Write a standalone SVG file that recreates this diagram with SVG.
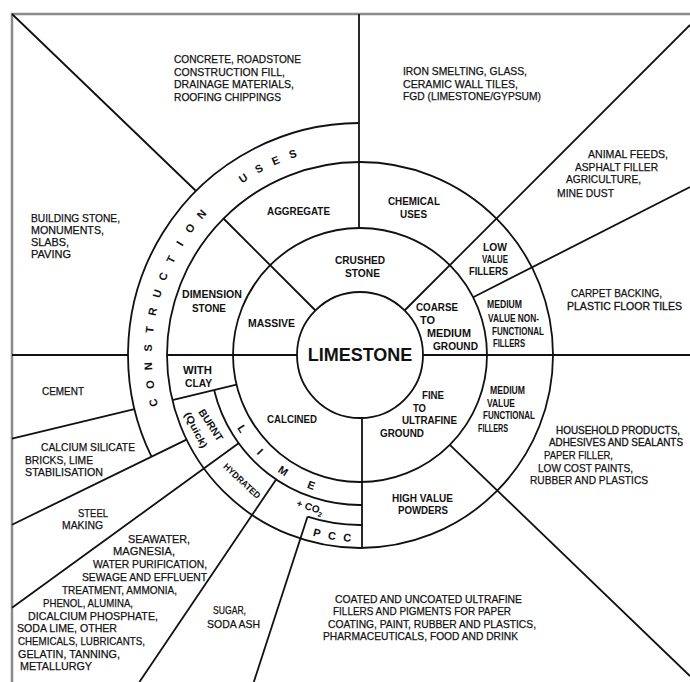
<svg xmlns="http://www.w3.org/2000/svg" width="690" height="682" viewBox="0 0 690 682">
<style>
.ln{fill:none;stroke:#111;stroke-width:1.8}
.fr{fill:none;stroke:#8c8c8c;stroke-width:2.5}
text{font-family:"Liberation Sans",Arial,Helvetica,sans-serif;fill:#111}
.o{font-size:11.5px;stroke:#111;stroke-width:0.25}
.e{font-size:10.2px;stroke-width:0.3}
.b{font-size:11.5px;font-weight:bold}
.s{font-size:10.5px;font-weight:bold}
.c{font-size:11px;font-weight:bold;text-anchor:middle}
.r{font-weight:bold;text-anchor:middle}
</style>
<rect x="0" y="0" width="690" height="682" fill="#fff"/>
<path class="fr" d="M12,682 L12,14 L690,14"/>
<g id="rings">
<circle class="ln" cx="360" cy="355" r="63"/>
<circle class="ln" cx="360" cy="355" r="127"/>
<circle class="ln" cx="360" cy="355" r="193"/>
<path class="ln" d="M359,123 A232,232 0 0,0 151.5,456.7"/>
<path class="ln" d="M214.1,390 A150,150 0 0,0 362,505"/>
<path class="ln" d="M307.5,516.7 A170,170 0 0,0 362,525"/>
</g>
<g id="connectors">
<path class="ln" d="M404.5,310.5 L690,25"/>
<path class="ln" d="M473.2,297.3 L690,187"/>
<path class="ln" d="M423,355 L690,355"/>
<path class="ln" d="M449.8,444.8 L690,676"/>
<path class="ln" d="M362,418 L362,548"/>
<path class="ln" d="M307.5,516.7 L253.8,682"/>
<path class="ln" d="M276.1,479.4 L139.4,682"/>
<path class="ln" d="M238.6,443.2 L12,607.8"/>
<path class="ln" d="M186.5,439.6 L12,524.7"/>
<path class="ln" d="M236.5,384.6 L172.3,400.1 M134.4,409.2 L12,438.6"/>
<path class="ln" d="M297,355 L167,355 M128,355 L12,355"/>
<path class="ln" d="M315.5,310.5 L223.5,218.5 M196,191 L12,14"/>
<path class="ln" d="M359,14 L359,228"/>
</g>
<g id="n-limestone"><text x="360" y="361" font-size="18" font-weight="bold" text-anchor="middle">LIMESTONE</text></g>
<g id="n-crushed-stone"><text class="b" x="335" y="264" textLength="50" lengthAdjust="spacingAndGlyphs">CRUSHED</text><text class="b" x="345" y="277" textLength="35" lengthAdjust="spacingAndGlyphs">STONE</text></g>
<g id="n-massive"><text class="b" x="248" y="326.5" textLength="47" lengthAdjust="spacingAndGlyphs">MASSIVE</text></g>
<g id="n-calcined"><text class="b" x="267" y="422.5" textLength="50" lengthAdjust="spacingAndGlyphs">CALCINED</text></g>
<g id="n-coarse-ground"><text class="b" x="416" y="311" textLength="42" lengthAdjust="spacingAndGlyphs">COARSE</text><text class="b" x="420" y="324" textLength="15" lengthAdjust="spacingAndGlyphs">TO</text><text class="b" x="427" y="336.5" textLength="44" lengthAdjust="spacingAndGlyphs">MEDIUM</text><text class="b" x="433" y="350" textLength="45" lengthAdjust="spacingAndGlyphs">GROUND</text></g>
<g id="n-fine-ground"><text class="b" x="422" y="399" textLength="22" lengthAdjust="spacingAndGlyphs">FINE</text><text class="b" x="413" y="411.5" textLength="13" lengthAdjust="spacingAndGlyphs">TO</text><text class="b" x="402" y="424" textLength="55" lengthAdjust="spacingAndGlyphs">ULTRAFINE</text><text class="b" x="380" y="436.5" textLength="44" lengthAdjust="spacingAndGlyphs">GROUND</text></g>
<g id="n-aggregate"><text class="b" x="267" y="215" textLength="63" lengthAdjust="spacingAndGlyphs">AGGREGATE</text></g>
<g id="n-chemical-uses"><text class="b" x="388" y="205" textLength="52" lengthAdjust="spacingAndGlyphs">CHEMICAL</text><text class="b" x="400" y="217.5" textLength="27" lengthAdjust="spacingAndGlyphs">USES</text></g>
<g id="n-low-value-fillers"><text class="b" x="483" y="251" textLength="24" lengthAdjust="spacingAndGlyphs">LOW</text><text class="b" x="482" y="263" textLength="26" lengthAdjust="spacingAndGlyphs">VALUE</text><text class="b" x="469" y="275" textLength="39" lengthAdjust="spacingAndGlyphs">FILLERS</text></g>
<g id="n-medium-nonfunctional"><text class="s" x="487" y="307.5" textLength="35" lengthAdjust="spacingAndGlyphs">MEDIUM</text><text class="s" x="488" y="321.5" textLength="51" lengthAdjust="spacingAndGlyphs">VALUE NON-</text><text class="s" x="492" y="334.5" textLength="52" lengthAdjust="spacingAndGlyphs">FUNCTIONAL</text><text class="s" x="493" y="347" textLength="32" lengthAdjust="spacingAndGlyphs">FILLERS</text></g>
<g id="n-medium-functional"><text class="s" x="490" y="394" textLength="35" lengthAdjust="spacingAndGlyphs">MEDIUM</text><text class="s" x="487" y="406.5" textLength="28" lengthAdjust="spacingAndGlyphs">VALUE</text><text class="s" x="483" y="419" textLength="52" lengthAdjust="spacingAndGlyphs">FUNCTIONAL</text><text class="s" x="478" y="431.5" textLength="30" lengthAdjust="spacingAndGlyphs">FILLERS</text></g>
<g id="n-high-value-powders"><text class="b" x="392" y="501.5" textLength="61" lengthAdjust="spacingAndGlyphs">HIGH VALUE</text><text class="b" x="398" y="514" textLength="50" lengthAdjust="spacingAndGlyphs">POWDERS</text></g>
<g id="n-dimension-stone"><text class="b" x="182" y="298" textLength="60" lengthAdjust="spacingAndGlyphs">DIMENSION</text><text class="b" x="192" y="311.5" textLength="34" lengthAdjust="spacingAndGlyphs">STONE</text></g>
<g id="n-with-clay"><text class="b" x="183" y="374" textLength="29" lengthAdjust="spacingAndGlyphs">WITH</text><text class="b" x="185" y="386.5" textLength="27" lengthAdjust="spacingAndGlyphs">CLAY</text></g>
<g id="n-burnt"><text class="r" font-size="10.5" transform="translate(211,425) rotate(57)" dy=".35em" textLength="36" lengthAdjust="spacingAndGlyphs">BURNT</text><text class="r" font-size="10" transform="translate(196,430) rotate(63)" dy=".35em" textLength="39" lengthAdjust="spacingAndGlyphs">(Quick)</text></g>
<g id="n-hydrated"><text class="r" font-size="9" transform="translate(242,481) rotate(43)" dy=".35em" textLength="47" lengthAdjust="spacingAndGlyphs">HYDRATED</text></g>
<g id="n-co2"><text class="r" font-size="10" transform="translate(310,507) rotate(18)" dy=".35em">+ CO<tspan font-size="7" dy="3">2</tspan></text></g>
<g id="n-lime">
<text class="c" transform="translate(242.1,428.7) rotate(58)" dy=".35em">L</text>
<text class="c" transform="translate(260,451.6) rotate(46)" dy=".35em">I</text>
<text class="c" transform="translate(283.3,470.9) rotate(33.5)" dy=".35em">M</text>
<text class="c" transform="translate(311.3,485.2) rotate(20.5)" dy=".35em">E</text>
</g>
<g id="n-pcc">
<text class="c" font-size="10" transform="translate(317,532.9) rotate(13.6)" dy=".35em">P</text>
<text class="c" font-size="10" transform="translate(332,535.9) rotate(8.8)" dy=".35em">C</text>
<text class="c" font-size="10" transform="translate(347.2,537.6) rotate(4)" dy=".35em">C</text>
</g>
<g id="n-construction-uses">
<text class="c" transform="translate(153.4,402.7) rotate(257)" dy=".35em">C</text>
<text class="c" transform="translate(150.1,384.6) rotate(262)" dy=".35em">O</text>
<text class="c" transform="translate(148.3,366.3) rotate(266.9)" dy=".35em">N</text>
<text class="c" transform="translate(148.1,347.9) rotate(271.9)" dy=".35em">S</text>
<text class="c" transform="translate(149.5,329.6) rotate(276.9)" dy=".35em">T</text>
<text class="c" transform="translate(152.5,311.5) rotate(281.9)" dy=".35em">R</text>
<text class="c" transform="translate(157.1,293.7) rotate(286.8)" dy=".35em">U</text>
<text class="c" transform="translate(163.2,276.3) rotate(291.8)" dy=".35em">C</text>
<text class="c" transform="translate(170.7,259.6) rotate(296.8)" dy=".35em">T</text>
<text class="c" transform="translate(179.7,243.5) rotate(301.7)" dy=".35em">I</text>
<text class="c" transform="translate(190,228.3) rotate(306.7)" dy=".35em">O</text>
<text class="c" transform="translate(201.6,214.1) rotate(311.7)" dy=".35em">N</text>
<text class="c" transform="translate(243.2,178.1) rotate(326.6)" dy=".35em">U</text>
<text class="c" transform="translate(259,168.6) rotate(331.6)" dy=".35em">S</text>
<text class="c" transform="translate(275.5,160.6) rotate(336.5)" dy=".35em">E</text>
<text class="c" transform="translate(292.7,154) rotate(341.5)" dy=".35em">S</text>
</g>
<g id="u-aggregate-uses"><text class="o" x="174" y="63" textLength="127" lengthAdjust="spacingAndGlyphs">CONCRETE, ROADSTONE</text><text class="o" x="174" y="75.5" textLength="111" lengthAdjust="spacingAndGlyphs">CONSTRUCTION FILL,</text><text class="o" x="174" y="88" textLength="120" lengthAdjust="spacingAndGlyphs">DRAINAGE MATERIALS,</text><text class="o" x="174" y="100.5" textLength="107" lengthAdjust="spacingAndGlyphs">ROOFING CHIPPINGS</text></g>
<g id="u-chemical-uses"><text class="o" x="403" y="75" textLength="124" lengthAdjust="spacingAndGlyphs">IRON SMELTING, GLASS,</text><text class="o" x="403" y="87.5" textLength="115" lengthAdjust="spacingAndGlyphs">CERAMIC WALL TILES,</text><text class="o" x="403" y="100" textLength="138" lengthAdjust="spacingAndGlyphs">FGD (LIMESTONE/GYPSUM)</text></g>
<g id="u-low-value"><text class="o" x="588" y="158" textLength="80" lengthAdjust="spacingAndGlyphs">ANIMAL FEEDS,</text><text class="o" x="575" y="170.5" textLength="83" lengthAdjust="spacingAndGlyphs">ASPHALT FILLER</text><text class="o" x="566" y="183" textLength="75" lengthAdjust="spacingAndGlyphs">AGRICULTURE,</text><text class="o" x="557" y="196.5" textLength="57" lengthAdjust="spacingAndGlyphs">MINE DUST</text></g>
<g id="u-medium-nonfunctional"><text class="o" x="571" y="297" textLength="91" lengthAdjust="spacingAndGlyphs">CARPET BACKING,</text><text class="o e" x="567" y="309.5" textLength="115" lengthAdjust="spacingAndGlyphs">PLASTIC FLOOR TILES</text></g>
<g id="u-medium-functional"><text class="o e" x="556" y="434" textLength="124" lengthAdjust="spacingAndGlyphs">HOUSEHOLD PRODUCTS,</text><text class="o e" x="549" y="446" textLength="134" lengthAdjust="spacingAndGlyphs">ADHESIVES AND SEALANTS</text><text class="o" x="544" y="459" textLength="69" lengthAdjust="spacingAndGlyphs">PAPER FILLER,</text><text class="o" x="538" y="471.5" textLength="95" lengthAdjust="spacingAndGlyphs">LOW COST PAINTS,</text><text class="o" x="530" y="484" textLength="118" lengthAdjust="spacingAndGlyphs">RUBBER AND PLASTICS</text></g>
<g id="u-high-value"><text class="o" x="335" y="602.5" textLength="187" lengthAdjust="spacingAndGlyphs">COATED AND UNCOATED ULTRAFINE</text><text class="o" x="333" y="614.5" textLength="178" lengthAdjust="spacingAndGlyphs">FILLERS AND PIGMENTS FOR PAPER</text><text class="o" x="328" y="627.5" textLength="208" lengthAdjust="spacingAndGlyphs">COATING, PAINT, RUBBER AND PLASTICS,</text><text class="o" x="323" y="640" textLength="195" lengthAdjust="spacingAndGlyphs">PHARMACEUTICALS, FOOD AND DRINK</text></g>
<g id="u-pcc"><text class="o" x="213" y="614" textLength="33" lengthAdjust="spacingAndGlyphs">SUGAR,</text><text class="o" x="207" y="627.5" textLength="53" lengthAdjust="spacingAndGlyphs">SODA ASH</text></g>
<g id="u-hydrated"><text class="o" x="128" y="542.5" textLength="62" lengthAdjust="spacingAndGlyphs">SEAWATER,</text><text class="o" x="113" y="555" textLength="62" lengthAdjust="spacingAndGlyphs">MAGNESIA,</text><text class="o" x="93" y="568" textLength="114" lengthAdjust="spacingAndGlyphs">WATER PURIFICATION,</text><text class="o" x="82" y="580.5" textLength="125" lengthAdjust="spacingAndGlyphs">SEWAGE AND EFFLUENT</text><text class="o" x="62" y="594" textLength="115" lengthAdjust="spacingAndGlyphs">TREATMENT, AMMONIA,</text><text class="o" x="43" y="607" textLength="90" lengthAdjust="spacingAndGlyphs">PHENOL, ALUMINA,</text><text class="o" x="28" y="620" textLength="130" lengthAdjust="spacingAndGlyphs">DICALCIUM PHOSPHATE,</text><text class="o" x="17" y="632" textLength="100" lengthAdjust="spacingAndGlyphs">SODA LIME, OTHER</text><text class="o" x="18" y="645" textLength="127" lengthAdjust="spacingAndGlyphs">CHEMICALS, LUBRICANTS,</text><text class="o" x="18" y="657.5" textLength="102" lengthAdjust="spacingAndGlyphs">GELATIN, TANNING,</text><text class="o" x="20" y="669.5" textLength="72" lengthAdjust="spacingAndGlyphs">METALLURGY</text></g>
<g id="u-burnt-steel"><text class="o" x="78" y="516.5" textLength="30" lengthAdjust="spacingAndGlyphs">STEEL</text><text class="o" x="62" y="528.5" textLength="41" lengthAdjust="spacingAndGlyphs">MAKING</text></g>
<g id="u-burnt-silicate"><text class="o" x="41" y="451" textLength="94" lengthAdjust="spacingAndGlyphs">CALCIUM SILICATE</text><text class="o" x="25" y="463.5" textLength="68" lengthAdjust="spacingAndGlyphs">BRICKS, LIME</text><text class="o" x="25" y="476" textLength="78" lengthAdjust="spacingAndGlyphs">STABILISATION</text></g>
<g id="u-with-clay"><text class="o" x="42" y="395" textLength="42" lengthAdjust="spacingAndGlyphs">CEMENT</text></g>
<g id="u-dimension-stone"><text class="o" x="31" y="222" textLength="89" lengthAdjust="spacingAndGlyphs">BUILDING STONE,</text><text class="o" x="31" y="234" textLength="73" lengthAdjust="spacingAndGlyphs">MONUMENTS,</text><text class="o" x="31" y="246" textLength="38" lengthAdjust="spacingAndGlyphs">SLABS,</text><text class="o" x="31" y="258" textLength="40" lengthAdjust="spacingAndGlyphs">PAVING</text></g>
</svg>
